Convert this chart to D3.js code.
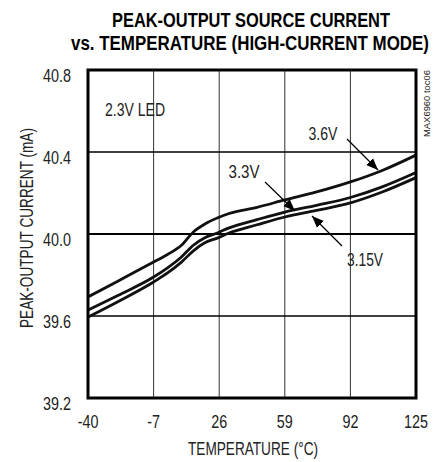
<!DOCTYPE html>
<html>
<head>
<meta charset="utf-8">
<script src="https://cdn.jsdelivr.net/npm/d3@7"></script>
<style>
  body { margin: 0; background: #fff; }
  text { font-family: "Liberation Sans", Arial, sans-serif; fill: #222; }
</style>
</head>
<body>
<svg id="chart" width="441" height="462"></svg>
<script>
// temperatures (°C) sampled along the curves
var temps = [-40, -25, -7, 0, 7, 13, 19, 25, 31, 45, 59, 75, 92, 108, 125];
// peak-output current (mA) per supply voltage
var v360 = [39.693, 39.77, 39.863, 39.9, 39.945, 40.01, 40.05, 40.078, 40.10, 40.13, 40.166, 40.205, 40.254, 40.31, 40.385];
var v330 = [39.629, 39.70, 39.79, 39.835, 39.888, 39.945, 39.983, 40.005, 40.03, 40.07, 40.107, 40.14, 40.178, 40.23, 40.30];
var v315 = [39.595, 39.67, 39.766, 39.81, 39.863, 39.918, 39.958, 39.98, 40.005, 40.045, 40.083, 40.115, 40.152, 40.205, 40.275];
var xTicks = [-40, -7, 26, 59, 92, 125];
var yTicks = [39.2, 39.6, 40.0, 40.4, 40.8];

var svg = d3.select("#chart");
var plotL = 88, plotR = 416, plotT = 70, plotB = 398;

var x = d3.scaleLinear().domain([-40, 125]).range([plotL, plotR]);
var y = d3.scaleLinear().domain([39.2, 40.8]).range([plotB, plotT]);

// squeeze text horizontally to mimic the condensed face of the original
function condense(sel, k) {
    sel.each(function () {
        var w = this.getComputedTextLength();
        d3.select(this).attr("textLength", w * k).attr("lengthAdjust", "spacingAndGlyphs");
    });
}

// title
svg.append("text")
    .attr("x", 251).attr("y", 27)
    .attr("text-anchor", "middle")
    .style("font-size", "20px").style("font-weight", "bold").style("fill", "#000")
    .text("PEAK-OUTPUT SOURCE CURRENT")
    .attr("textLength", 278).attr("lengthAdjust", "spacingAndGlyphs");
svg.append("text")
    .attr("x", 250).attr("y", 50)
    .attr("text-anchor", "middle")
    .style("font-size", "20px").style("font-weight", "bold").style("fill", "#000")
    .text("vs. TEMPERATURE (HIGH-CURRENT MODE)")
    .attr("textLength", 358).attr("lengthAdjust", "spacingAndGlyphs");

// grid
svg.append("g").selectAll("line").data(xTicks.slice(1, -1)).join("line")
    .attr("x1", function (d) { return x(d); }).attr("x2", function (d) { return x(d); })
    .attr("y1", plotT).attr("y2", plotB)
    .attr("stroke", "#333").attr("stroke-width", 1);
svg.append("g").selectAll("line").data(yTicks.slice(1, -1)).join("line")
    .attr("x1", plotL).attr("x2", plotR)
    .attr("y1", function (d) { return y(d); }).attr("y2", function (d) { return y(d); })
    .attr("stroke", "#000").attr("stroke-width", function (d) { return d === 40.0 ? 1.8 : 1.3; });

// axes labels
svg.append("g").selectAll("text").data(xTicks).join("text")
    .attr("x", function (d) { return x(d); }).attr("y", 428)
    .attr("text-anchor", "middle")
    .style("font-size", "17.5px")
    .text(function (d) { return d; })
    .call(condense, 0.82);
svg.append("g").selectAll("text").data(yTicks).join("text")
    .attr("x", 71).attr("y", function (d) { return y(d) + 12; })
    .attr("text-anchor", "end")
    .style("font-size", "17.5px")
    .text(function (d) { return d.toFixed(1); })
    .call(condense, 0.82);

svg.append("text")
    .attr("x", 253).attr("y", 455)
    .attr("text-anchor", "middle")
    .style("font-size", "17.5px")
    .text("TEMPERATURE (°C)")
    .attr("textLength", 130).attr("lengthAdjust", "spacingAndGlyphs");
svg.append("text")
    .attr("transform", "translate(33,228) rotate(-90)")
    .attr("text-anchor", "middle")
    .style("font-size", "17.5px")
    .text("PEAK-OUTPUT CURRENT (mA)")
    .attr("textLength", 200).attr("lengthAdjust", "spacingAndGlyphs");

svg.append("text")
    .attr("transform", "translate(430,137) rotate(-90)")
    .style("font-size", "9.5px")
    .text("MAX6960 toc06")
    .attr("textLength", 67).attr("lengthAdjust", "spacingAndGlyphs");

// curves
var line = d3.line()
    .x(function (d, i) { return x(temps[i]); })
    .y(function (d) { return y(d); })
    .curve(d3.curveMonotoneX);

svg.append("clipPath").attr("id", "plot")
    .append("rect").attr("x", plotL).attr("y", plotT).attr("width", plotR - plotL).attr("height", plotB - plotT);

var curves = svg.append("g").attr("clip-path", "url(#plot)");
[v360, v330, v315].forEach(function (s) {
    curves.append("path").datum(s)
        .attr("d", line)
        .attr("fill", "none")
        .attr("stroke", "#111")
        .attr("stroke-width", 2.8);
});

// frame
svg.append("rect")
    .attr("x", plotL).attr("y", plotT).attr("width", plotR - plotL).attr("height", plotB - plotT)
    .attr("fill", "none").attr("stroke", "#000").attr("stroke-width", 3);

// annotations
svg.append("defs").append("marker")
    .attr("id", "arrow").attr("viewBox", "0 0 10 10")
    .attr("refX", 10).attr("refY", 5)
    .attr("markerWidth", 12).attr("markerHeight", 12)
    .attr("markerUnits", "userSpaceOnUse")
    .attr("orient", "auto")
    .append("path").attr("d", "M0,1 L10,5 L0,9 Z").attr("fill", "#000");

var notes = [
    {label: "2.3V LED", tx: 105, ty: 116, anchor: "start", w: 60},
    {label: "3.6V", tx: 323, ty: 140, anchor: "middle", w: 29, x1: 347, y1: 139, x2: 378, y2: 170},
    {label: "3.3V", tx: 244, ty: 178, anchor: "middle", w: 31, x1: 265, y1: 182, x2: 295, y2: 211},
    {label: "3.15V", tx: 365, ty: 266, anchor: "middle", w: 36, x1: 342, y1: 246, x2: 312, y2: 216}
];
notes.forEach(function (n) {
    svg.append("text")
        .attr("x", n.tx).attr("y", n.ty)
        .attr("text-anchor", n.anchor)
        .style("font-size", "17.5px")
        .text(n.label)
        .attr("textLength", n.w).attr("lengthAdjust", "spacingAndGlyphs");
    if (n.x1 !== undefined) {
        svg.append("line")
            .attr("x1", n.x1).attr("y1", n.y1).attr("x2", n.x2).attr("y2", n.y2)
            .attr("stroke", "#000").attr("stroke-width", 1.2)
            .attr("marker-end", "url(#arrow)");
    }
});
</script>
</body>
</html>
